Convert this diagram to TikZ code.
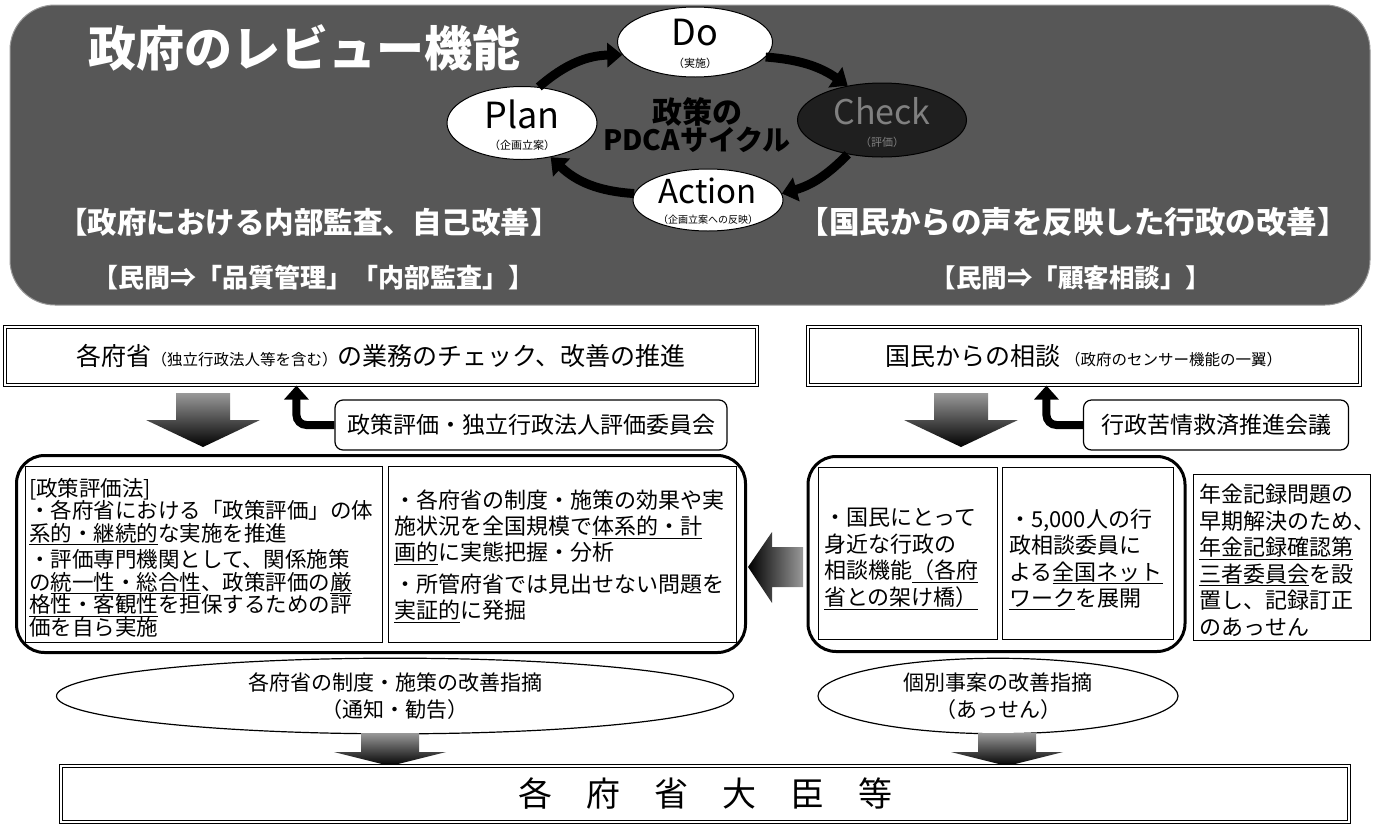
\documentclass[tikz,border=0pt]{standalone}
\usepackage{fontspec}
\usepackage{pdfrender}
\setmainfont{Noto Sans CJK JP}
\usetikzlibrary{shapes.geometric,arrows.meta,calc}
\newcommand\fs[2]{\fontsize{#1}{#2}\selectfont}
\newcommand\outl[1]{\textpdfrender{TextRenderingMode=FillStroke,LineWidth=1.4pt,StrokeColor=white,FillColor=black}{#1}}
\tikzset{
  banner/.style={fill=black!66, draw=black!40, line width=1pt, rounded corners=45pt},
  wtext/.style={text=white, font=\bfseries},
  pdca/.style={ellipse, draw=black, line width=1pt, fill=white, inner sep=0pt},
  pdcalbl/.style={inner sep=0pt},
  cyc/.style={line width=9pt, draw=black, -{Triangle[length=15pt,width=24pt]}},
  topbox/.style={draw=black, line width=1.1pt, double, double distance=2.5pt, fill=white},
  rbox/.style={draw=black, line width=1.2pt, rounded corners=8pt, fill=white},
  bigbox/.style={draw=black, line width=3pt, rounded corners=28pt},
  inbox/.style={draw=black, line width=0.8pt},
  txt/.style={align=left, inner sep=0pt},
  oval/.style={ellipse, draw=black, line width=1.2pt, align=center},
  fatarrow/.style={top color=black!40, bottom color=black, draw=none},
  elbow/.style={line width=8pt, rounded corners=10pt, -{Triangle[length=14pt,width=24pt]}},
}
\begin{document}
\begin{tikzpicture}[x=1pt,y=-1pt]
\useasboundingbox (0,0) rectangle (1379,825);
\fill[white] (0,0) rectangle (1379,825);

% banner
\node[banner, minimum width=1360pt, minimum height=300pt] (banner) at (690,155) {};
\node[wtext, anchor=west] (title) at (85,48) {\fs{48}{48}政府のレビュー機能};

% PDCA
\node[pdca, minimum width=155pt, minimum height=70pt] (do) at (695,42) {};
\node[pdcalbl] (doA) at (695,33) {\fs{36}{36}Do};
\node[pdcalbl] (doB) at (695,63) {\fs{11}{11}（実施）};
\node[pdca, minimum width=150pt, minimum height=73pt] (plan) at (522,123) {};
\node[pdcalbl] (planA) at (522,114) {\fs{36}{36}Plan};
\node[pdcalbl] (planB) at (522,145) {\fs{11}{11}（企画立案）};
\node[pdca, fill=black!88, minimum width=169pt, minimum height=74pt] (check) at (882,120) {};
\node[pdcalbl, text=black!50] (checkA) at (882,111) {\fs{34}{34}Check};
\node[pdcalbl, text=black!50] (checkB) at (882,142) {\fs{11}{11}（評価）};
\node[pdca, minimum width=150pt, minimum height=62pt] (action) at (708,200) {};
\node[pdcalbl] (actionA) at (708,191) {\fs{33}{33}Action};
\node[pdcalbl] (actionB) at (708,220) {\fs{10}{10}（企画立案への反映）};
\node[font=\bfseries, align=center] (pdc) at (697,125) {\fs{30}{34}\outl{政策の}\\\fs{28}{30}\outl{PDCAサイクル}};
\draw[cyc] (plan.65) to[bend left=20] (do.190);
\draw[cyc] (do.-12) to[bend left=15] (check.135);
\draw[cyc] (check.225) to[bend left=15] (action.5);
\draw[cyc] (action.175) to[bend left=20] (plan.-50);

\node[wtext] (sub1) at (309,222) {\fs{29.5}{30}【政府における内部監査、自己改善】};
\node[wtext] (sub2) at (313,278) {\fs{26}{26}【民間⇒「品質管理」「内部監査」】};
\node[wtext] (sub3) at (1073,222) {\fs{30.5}{31}【国民からの声を反映した行政の改善】};
\node[wtext] (sub4) at (1071,278) {\fs{25.5}{26}【民間⇒「顧客相談」】};

% top boxes
\node[topbox, minimum width=752pt, minimum height=58pt] (box1) at (381,356)
  {\fs{25}{25}各府省{\fs{15.5}{16}（独立行政法人等を含む）}の業務のチェック、改善の推進};
\node[topbox, minimum width=552pt, minimum height=58pt] (box2) at (1084,356)
  {\fs{25}{25}国民からの相談\,{\fs{15.5}{16}（政府のセンサー機能の一翼）}};

\node[rbox, minimum width=392pt, minimum height=50pt] (comm) at (531,425) {\fs{23}{23}政策評価・独立行政法人評価委員会};
\node[rbox, minimum width=265pt, minimum height=50pt] (kujo) at (1216,425) {\fs{23}{23}行政苦情救済推進会議};
\draw[elbow] (comm.west) -| ($(box1.south west)+(292,0)$);
\draw[elbow] (kujo.west) -| ($(box2.south west)+(239,0)$);

% down arrows under top boxes
\shade[fatarrow] (176,393) -- (230,393) -- (230,420) -- (260,420) -- (203,447) -- (146,420) -- (176,420) -- cycle;
\shade[fatarrow] (934,393) -- (988,393) -- (988,420) -- (1018,420) -- (961,447) -- (904,420) -- (934,420) -- cycle;

% left big box
\node[bigbox, minimum width=729pt, minimum height=197pt] (bigL) at (381,554) {};
\node[inbox, minimum width=357pt, minimum height=176pt] (boxA) at (203.5,554) {};
\node[inbox, minimum width=348pt, minimum height=176pt] (boxB) at (562,554) {};
\node[txt, anchor=north west, font=\fs{21.5}{22.5}] (tA) at (29,478) {%
[政策評価法]\\
・各府省における「政策評価」の体\\
\underline{系的・継続的}な実施を推進\\[4pt]
・評価専門機関として、関係施策\\
の\underline{統一性・総合性}、政策評価の\underline{厳}\\
\underline{格性・客観性}を担保するための評\\
価を自ら実施};
\node[txt, anchor=north west, font=\fs{22}{26}] (tB) at (394,490) {%
・各府省の制度・施策の効果や実\\
施状況を全国規模で\underline{体系的・計}\\
\underline{画的}に実態把握・分析\\[6pt]
・所管府省では見出せない問題を\\
\underline{実証的}に発掘};

% left arrow
\shade[left color=black, right color=black!40] (803,547) -- (772,547) -- (772,532) -- (748,567) -- (772,603) -- (772,587) -- (803,587) -- cycle;

% right big box
\node[bigbox, minimum width=377pt, minimum height=195pt] (bigR) at (996.5,554) {};
\node[inbox, minimum width=179pt, minimum height=172pt] (boxC) at (907.5,553) {};
\node[inbox, minimum width=171pt, minimum height=172pt] (boxD) at (1087.5,553) {};
\node[txt, anchor=west, font=\fs{22}{26.5}] (tC) at (824,559) {%
・国民にとって\\
身近な行政の\\
相談機能\underline{（各府}\\
\underline{省との架け橋）}};
\node[txt, anchor=west, font=\fs{22}{26.5}] (tD) at (1009,559) {%
・5,000人の行\\
政相談委員に\\
よる\underline{全国ネット}\\
\underline{ワーク}を展開};
\node[inbox, minimum width=177pt, minimum height=166pt] (boxE) at (1281.5,557) {};
\node[txt, anchor=north west, font=\fs{22}{26.5}] (tE) at (1199,484) {%
年金記録問題の\\
早期解決のため、\\
\underline{年金記録確認第}\\
\underline{三者委員会}を設\\
置し、記録訂正\\
のあっせん};

% ovals
\node[oval, minimum width=677pt, minimum height=67pt, font=\fs{21}{27}] (ovL) at (395,696) {各府省の制度・施策の改善指摘\\（通知・勧告）};
\node[oval, minimum width=360pt, minimum height=67pt, font=\fs{21}{27}] (ovR) at (998,696) {個別事案の改善指摘\\（あっせん）};

\shade[fatarrow] (361,733) -- (419,733) -- (419,752) -- (446,752) -- (390,766) -- (334,752) -- (361,752) -- cycle;
\shade[fatarrow] (978,733) -- (1036,733) -- (1036,752) -- (1063,752) -- (1007,766) -- (951,752) -- (978,752) -- cycle;

% bottom box
\node[topbox, minimum width=1288pt, minimum height=56pt] (bottom) at (705,794) {\fs{34}{34}各\hspace{1em}府\hspace{1em}省\hspace{1em}大\hspace{1em}臣\hspace{1em}等};
\end{tikzpicture}
\end{document}
